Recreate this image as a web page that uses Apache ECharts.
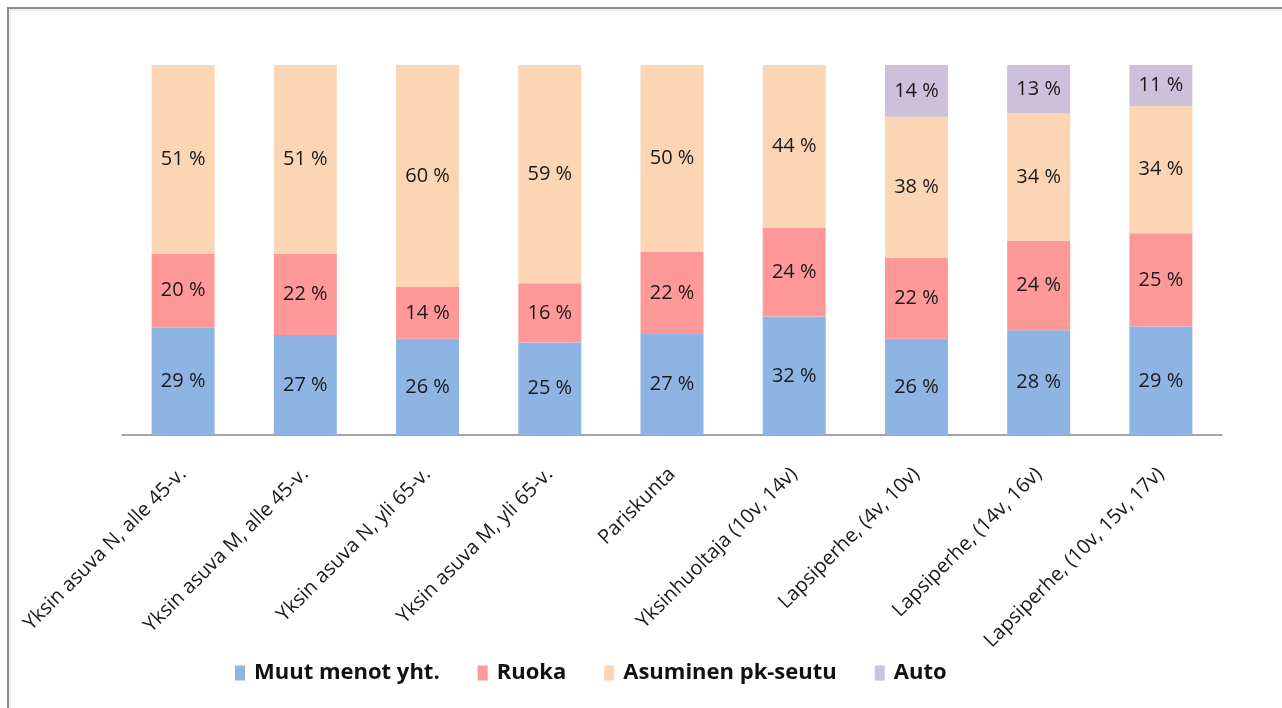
<!DOCTYPE html>
<html>
<head>
<meta charset="utf-8">
<title>Menot</title>
<script src="https://cdn.jsdelivr.net/npm/echarts@6/dist/echarts.min.js"></script>
<style>
    html, body { margin: 0; padding: 0; background: #fff; }
    #chart { width: 1282px; height: 708px; }
</style>
</head>
<body>
<div id="chart"></div>
<script>
    // luvut luettu kuvasta (%)
    var categories = [
        'Yksin asuva N, alle 45-v.',
        'Yksin asuva M, alle 45-v.',
        'Yksin asuva N, yli 65-v.',
        'Yksin asuva M, yli 65-v.',
        'Pariskunta',
        'Yksinhuoltaja (10v, 14v)',
        'Lapsiperhe, (4v, 10v)',
        'Lapsiperhe, (14v, 16v)',
        'Lapsiperhe, (10v, 15v, 17v)'
    ];
    var muut = [29, 27, 26, 25, 27, 32, 26, 28, 29];
    var ruoka = [20, 22, 14, 16, 22, 24, 22, 24, 25];
    var asuminen = [51, 51, 60, 59, 50, 44, 38, 34, 34];
    var auto = [null, null, null, null, null, null, 14, 13, 11];

    var seriesNames = ['Muut menot yht.', 'Ruoka', 'Asuminen pk-seutu', 'Auto'];
    var colors = ['#8db4e2', '#ff9999', '#fcd5b4', '#ccc0da'];

    // 100 % pinottu: jokainen pylväs skaalataan omaan summaansa
    var totals = categories.map(function (c, i) {
        return muut[i] + ruoka[i] + asuminen[i] + (auto[i] || 0);
    });

    function makeSeries(name, raw, color) {
        return {
            name: name,
            type: 'bar',
            stack: 'all',
            barWidth: 63,
            itemStyle: { color: color },
            label: {
                show: true,
                position: 'inside',
                color: '#1a1a1a',
                fontSize: 20,
                fontFamily: 'Open Sans',
                formatter: function (p) {
                    return raw[p.dataIndex] == null ? '' : raw[p.dataIndex] + ' %';
                }
            },
            emphasis: { disabled: true },
            data: raw.map(function (v, i) {
                return v == null ? '-' : v / totals[i] * 100;
            })
        };
    }

    var myChart = echarts.init(document.getElementById('chart'));
    var option = {
        animation: false,
        color: colors,
        grid: {
            left: 122,
            right: 60,
            top: 65,
            bottom: 273
        },
        legend: {
            left: 230,
            top: 657,
            icon: 'rect',
            itemWidth: 10,
            itemHeight: 15,
            itemGap: 38,
            textStyle: {
                fontFamily: 'Open Sans',
                fontWeight: 'bold',
                fontSize: 22,
                color: '#111',
                padding: [0, 0, 0, 4]
            },
            data: seriesNames
        },
        xAxis: {
            type: 'category',
            data: categories,
            axisLine: { lineStyle: { color: '#888', width: 1.5 } },
            axisTick: { show: false },
            axisLabel: {
                interval: 0,
                rotate: 45,
                margin: 36,
                color: '#1a1a1a',
                fontSize: 20,
                fontFamily: 'Open Sans'
            }
        },
        yAxis: {
            type: 'value',
            min: 0,
            max: 100,
            show: false
        },
        graphic: [
            {
                type: 'polyline',
                shape: { points: [[8, 708], [8, 8], [1282, 8]] },
                style: { stroke: '#8c8c8c', lineWidth: 2, fill: null },
                silent: true
            },
            {
                type: 'polyline',
                shape: { points: [[10, 708], [10, 10], [1282, 10]] },
                style: { stroke: '#dedede', lineWidth: 1, fill: null },
                silent: true
            }
        ],
        series: [
            makeSeries(seriesNames[0], muut, colors[0]),
            makeSeries(seriesNames[1], ruoka, colors[1]),
            makeSeries(seriesNames[2], asuminen, colors[2]),
            makeSeries(seriesNames[3], auto, colors[3])
        ]
    };
    myChart.setOption(option);
</script>
</body>
</html>
